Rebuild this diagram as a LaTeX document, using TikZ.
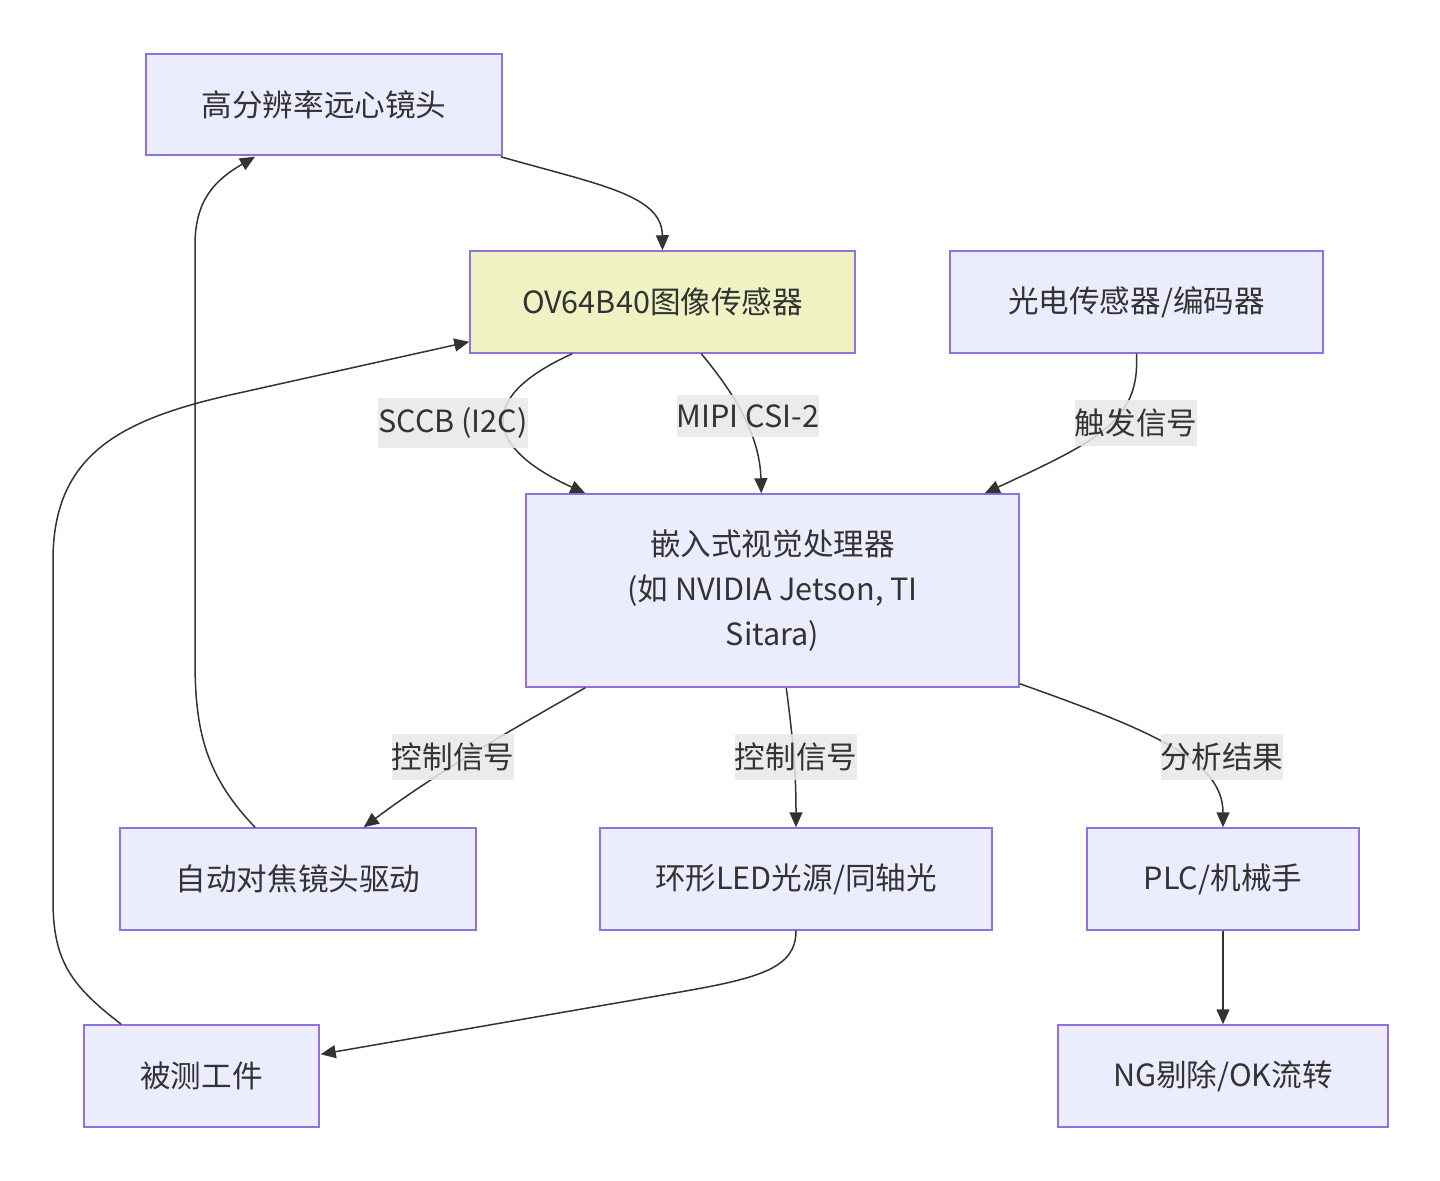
\documentclass[tikz,border=0pt]{standalone}
\usepackage{fontspec}
\setmainfont{Noto Sans CJK SC}
\usetikzlibrary{arrows.meta,calc}
\definecolor{nodefill}{HTML}{ECECFF}
\definecolor{nodeline}{HTML}{9370DB}
\definecolor{sensfill}{HTML}{EFF2C2}
\definecolor{edgecol}{HTML}{333333}
\definecolor{lblfill}{HTML}{E8E8E8}
\definecolor{txtcol}{HTML}{333333}
\tikzset{
  box/.style={draw=nodeline, fill=nodefill, line width=0.75pt, inner sep=0pt,
    text=txtcol, font=\fontsize{15.3}{22.5}\selectfont, align=center},
  edge/.style={draw=edgecol, line width=0.75pt, -{Triangle[length=7.5pt,width=6.5pt]}},
  lbl/.style={fill=lblfill, fill opacity=0.85, text opacity=1, text=txtcol,
    font=\fontsize{15.3}{18}\selectfont, inner xsep=0pt, inner ysep=4.5pt}
}
\begin{document}
\begin{tikzpicture}[x=0.5pt,y=-0.5pt]
\useasboundingbox (0,0) rectangle (1440,1181);

\node[box, minimum width=178pt, minimum height=50.5pt] (lens) at (324,104.5) {高分辨率远心镜头};
\node[box, fill=sensfill, minimum width=192.5pt, minimum height=51pt] (sensor) at (662.5,302) {OV64B40图像传感器};
\node[box, minimum width=186.5pt, minimum height=51pt] (photo) at (1136.5,302) {光电传感器/编码器};
\node[box, minimum width=246.5pt, minimum height=96.5pt] (proc) at (772.5,590.5) {嵌入式视觉处理器\\(如 NVIDIA Jetson, TI\\Sitara)};
\node[box, minimum width=178pt, minimum height=51pt] (af) at (298,879) {自动对焦镜头驱动};
\node[box, minimum width=196pt, minimum height=51pt] (led) at (796,879) {环形LED光源/同轴光};
\node[box, minimum width=136pt, minimum height=51pt] (plc) at (1223,879) {PLC/机械手};
\node[box, minimum width=117.5pt, minimum height=51pt] (work) at (201.5,1076) {被测工件};
\node[box, minimum width=165pt, minimum height=51pt] (ng) at (1223,1076) {NG剔除/OK流转};

% lens -> sensor
\draw[edge] ($(lens.south east)+(-2,1)$) .. controls (600,185) and (662,195) .. (sensor.north);
% af -> lens
\draw[edge] ($(af.north)+(-43,0)$) .. controls (205,775) and (195,730) .. (195,660)
  -- (195,245) .. controls (195,200) and (215,180) .. ($(lens.south)+(-69,1)$);
% work -> sensor
\draw[edge] ($(work.north west)+(38,0)$) .. controls (70,985) and (53,960) .. (53,900)
  -- (53,560) .. controls (53,455) and (120,420) .. (230,395) -- ($(sensor.south west)+(0,-12)$);
% sensor -> proc SCCB
\draw[edge] ($(sensor.south west)+(103,0)$) .. controls (470,400) and (490,450) .. ($(proc.north west)+(60,0)$);
\node[lbl] (l1) at (453,423) {SCCB (I2C)};
% sensor -> proc MIPI
\draw[edge] ($(sensor.south west)+(232,0)$) .. controls (740,400) and (760,440) .. ($(proc.north west)+(236,0)$);
\node[lbl] (l2) at (748,416) {MIPI CSI-2};
% photo -> proc
\draw[edge] (photo.south) .. controls (1140,420) and (1100,440) .. ($(proc.north east)+(-35,0)$);
\node[lbl] (l3) at (1136,423) {触发信号};
% proc -> af
\draw[edge] ($(proc.south west)+(60,0)$) .. controls (520,725) and (440,770) .. ($(af.north east)+(-113,0)$);
\node[lbl] (l4) at (453,757) {控制信号};
% proc -> led
\draw[edge] ($(proc.south west)+(261,0)$) .. controls (793,740) and (796,770) .. (led.north);
\node[lbl] (l5) at (796,757) {控制信号};
% proc -> plc
\draw[edge] ($(proc.south east)+(0,-4)$) .. controls (1150,730) and (1223,760) .. (plc.north);
\node[lbl] (l6) at (1222,757) {分析结果};
% led -> work
\draw[edge] (led.south) .. controls (796,968) and (760,978) .. (680,992) -- ($(work.north east)+(1,30)$);
% plc -> ng
\draw[edge] (plc.south) -- (ng.north);
\end{tikzpicture}
\end{document}
